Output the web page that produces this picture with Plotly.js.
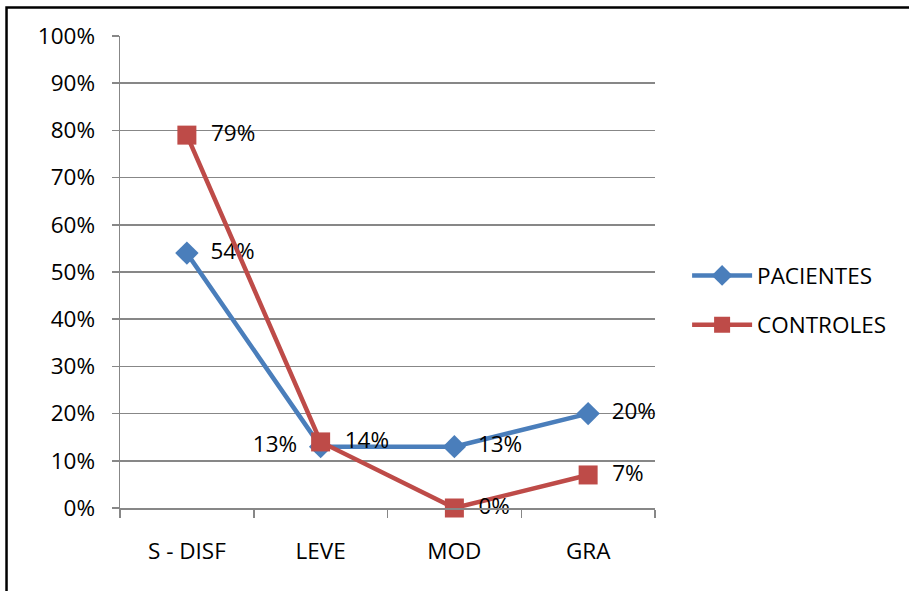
<!DOCTYPE html>
<html>
<head>
<meta charset="utf-8">
<script src="https://cdn.plot.ly/plotly-3.0.1.min.js"></script>
<style>
  html, body { margin: 0; padding: 0; background: #fff; }
  #chart { width: 909px; height: 591px; }
</style>
</head>
<body>
<div id="chart"></div>
<script>
// Severity categories on the x axis
const categories = ["S - DISF", "LEVE", "MOD", "GRA"];

// Percentages per group
const pacientes = [54, 13, 13, 20];
const controles = [79, 14, 0, 7];

// Y axis tick values and labels
const yTicks = [0, 10, 20, 30, 40, 50, 60, 70, 80, 90, 100];
const yTickLabels = yTicks.map(v => v + "%");

const FONT = "Open Sans, Noto Sans, sans-serif";
const FS = 22.5;
const GRID = "#878787";

// Point labels: value followed by a percent sign, padded away from the marker
const pad = (s, side) => side === "left" ? s + "\u2002" : "\u2002" + s;
const pacPos = ["middle right", "middle left", "middle right", "middle right"];
const pacLabels = pacientes.map((v, i) => pad(v + "%", pacPos[i].endsWith("left") ? "left" : "right"));
const conLabels = controles.map(v => pad(v + "%", "right"));

const tracePacientes = {
  x: categories,
  y: pacientes,
  name: "PACIENTES",
  legendgroup: "p",
  type: "scatter",
  mode: "lines+markers+text",
  line: { color: "#4a7ebb", width: 4.5 },
  marker: { symbol: "diamond", size: 18, color: "#4a7ebb" },
  text: pacLabels,
  textposition: pacPos,
  textfont: { family: FONT, size: FS, color: "#000" },
  cliponaxis: false,
  hoverinfo: "skip"
};

const traceControles = {
  x: categories,
  y: controles,
  name: "CONTROLES",
  legendgroup: "c",
  type: "scatter",
  mode: "lines+markers+text",
  line: { color: "#be4b48", width: 4.5 },
  marker: { symbol: "square", size: 19, color: "#be4b48" },
  text: conLabels,
  textposition: "middle right",
  textfont: { family: FONT, size: FS, color: "#000" },
  cliponaxis: false,
  hoverinfo: "skip"
};

const layout = {
  width: 909,
  height: 591,
  margin: { l: 120, r: 254, t: 36, b: 83 },
  paper_bgcolor: "#fff",
  plot_bgcolor: "#fff",
  font: { family: FONT, size: FS, color: "#000" },
  showlegend: true,
  legend: {
    x: 1.06, xanchor: "left",
    y: 0.44, yanchor: "middle",
    traceorder: "grouped",
    tracegroupgap: 17,
    itemwidth: 60,
    font: { family: FONT, size: FS, color: "#000" },
    bgcolor: "rgba(0,0,0,0)"
  },
  xaxis: {
    type: "category",
    range: [-0.5, 3.5],
    tickson: "boundaries",
    ticks: "outside",
    ticklen: 8,
    tickwidth: 1.5,
    tickcolor: GRID,
    showgrid: false,
    showline: true,
    linecolor: GRID,
    linewidth: 1.5,
    zeroline: false,
    ticklabelstandoff: 22,
    tickfont: { family: FONT, size: FS, color: "#000" },
    fixedrange: true
  },
  yaxis: {
    range: [0, 100],
    tickvals: yTicks,
    ticktext: yTickLabels,
    ticks: "outside",
    ticklen: 7,
    tickwidth: 1.5,
    tickcolor: GRID,
    showgrid: true,
    gridcolor: GRID,
    gridwidth: 1.5,
    showline: true,
    linecolor: GRID,
    linewidth: 1.5,
    zeroline: false,
    ticklabelstandoff: 12,
    tickfont: { family: FONT, size: FS, color: "#000" },
    fixedrange: true
  },
  shapes: [{
    type: "rect",
    xref: "paper", yref: "paper",
    x0: -0.2121, x1: 1.49,
    y0: -0.2, y1: 1.0604,
    line: { color: "#000", width: 2.5 },
    fillcolor: "rgba(0,0,0,0)",
    layer: "below"
  }]
};

Plotly.newPlot("chart", [tracePacientes, traceControles], layout, {
  staticPlot: true,
  displayModeBar: false
});
</script>
</body>
</html>
